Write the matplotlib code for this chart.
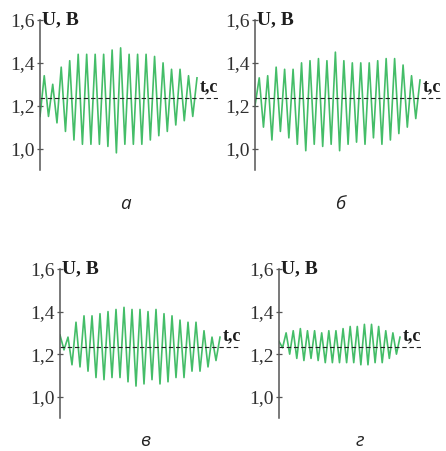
import numpy as np
import matplotlib
matplotlib.use("Agg")
import matplotlib.pyplot as plt

# extremes of the signal (start, then alternating peak / trough), U in volts
u_a = [1.15, 1.34, 1.15, 1.30, 1.12, 1.38, 1.08, 1.41, 1.04, 1.44, 1.02, 1.44, 1.02,
       1.44, 1.02, 1.44, 1.01, 1.46, 0.98, 1.47, 1.02, 1.44, 1.02, 1.44, 1.02, 1.44,
       1.04, 1.43, 1.06, 1.40, 1.08, 1.37, 1.11, 1.37, 1.13, 1.34, 1.15, 1.33]
u_b = [1.20, 1.33, 1.10, 1.34, 1.04, 1.38, 1.08, 1.37, 1.05, 1.37, 1.02, 1.40, 0.99,
       1.41, 1.02, 1.42, 1.01, 1.41, 1.02, 1.45, 0.99, 1.41, 1.02, 1.40, 1.03, 1.40,
       1.02, 1.40, 1.05, 1.41, 1.02, 1.42, 1.04, 1.42, 1.07, 1.39, 1.10, 1.34, 1.14, 1.32]
u_v = [1.29, 1.22, 1.28, 1.15, 1.35, 1.14, 1.38, 1.12, 1.38, 1.09, 1.39, 1.08, 1.40,
       1.09, 1.41, 1.09, 1.42, 1.07, 1.41, 1.05, 1.41, 1.06, 1.40, 1.08, 1.41, 1.06,
       1.39, 1.07, 1.38, 1.09, 1.36, 1.09, 1.35, 1.12, 1.35, 1.12, 1.31, 1.14, 1.28,
       1.17, 1.28]
u_g = [1.26, 1.23, 1.30, 1.20, 1.31, 1.18, 1.32, 1.17, 1.31, 1.18, 1.31, 1.17, 1.30,
       1.16, 1.31, 1.16, 1.31, 1.16, 1.32, 1.16, 1.33, 1.16, 1.33, 1.15, 1.34, 1.15,
       1.34, 1.16, 1.33, 1.16, 1.31, 1.18, 1.30, 1.20, 1.28]
u_mean = [1.235, 1.235, 1.232, 1.232]
panel_names = ["а", "б", "в", "г"]
y_ticks = [1.0, 1.2, 1.4, 1.6]
y_tick_labels = ["1,0", "1,2", "1,4", "1,6"]

W, H = 446, 451
fig = plt.figure(figsize=(W / 100, H / 100), dpi=100)

# pixel boxes: left(spine), top, right(end of dashed line), bottom, end of signal
boxes = [(40, 20, 218, 170, 197), (255, 20, 441, 170, 420),
         (60, 269, 241, 418, 220), (279, 269, 421, 418, 400)]
label_pos = [(125, 204), (340, 204), (145, 441), (360, 441)]
green = "#30b658"
grey = "#303030"

for u, mean, name, box, lp in zip([u_a, u_b, u_v, u_g], u_mean, panel_names, boxes, label_pos):
    left, top, right, bottom, sig_end = box
    ax = fig.add_axes([left / W, 1 - bottom / H, (right - left) / W, (bottom - top) / H])
    t = np.arange(len(u))
    ax.plot(t, u, color=green, lw=1.2, alpha=0.9)
    ax.axhline(mean, color="#222222", lw=0.8, ls=(0, (4, 2.5)))
    ax.set_xlim(0, (len(u) - 1) * (right - left) / (sig_end - left))
    ax.set_ylim(0.9, 1.6)
    for s in ["top", "right", "bottom"]:
        ax.spines[s].set_visible(False)
    ax.spines["left"].set_color("#555555")
    ax.spines["left"].set_linewidth(1.1)
    ax.set_xticks([])
    ax.set_yticks(y_ticks)
    ax.set_yticklabels(y_tick_labels, family="Liberation Serif", fontsize=14, color=grey)
    ax.tick_params(axis="y", direction="inout", length=4, width=0.9, color="#555555", pad=1.5)
    ax.annotate("U, B", xy=(0.0, 1.6), xycoords=ax.get_yaxis_transform(),
                xytext=(1.5, 0), textcoords="offset points", ha="left", va="center",
                family="Liberation Serif", weight="bold", fontsize=14, color="#1e1e1e")
    ax.annotate("t,c", xy=(1.0, mean), xycoords=ax.get_yaxis_transform(),
                xytext=(0, 2), textcoords="offset points", ha="right", va="bottom",
                family="Liberation Serif", weight="bold", fontsize=13, color="#1e1e1e")
    fig.text(lp[0] / W, 1 - lp[1] / H, name, family=["Open Sans", "DejaVu Sans"],
             style="italic", fontsize=13.5, color="#222222", ha="center", va="center")

fig.savefig("out.png", dpi=100)
